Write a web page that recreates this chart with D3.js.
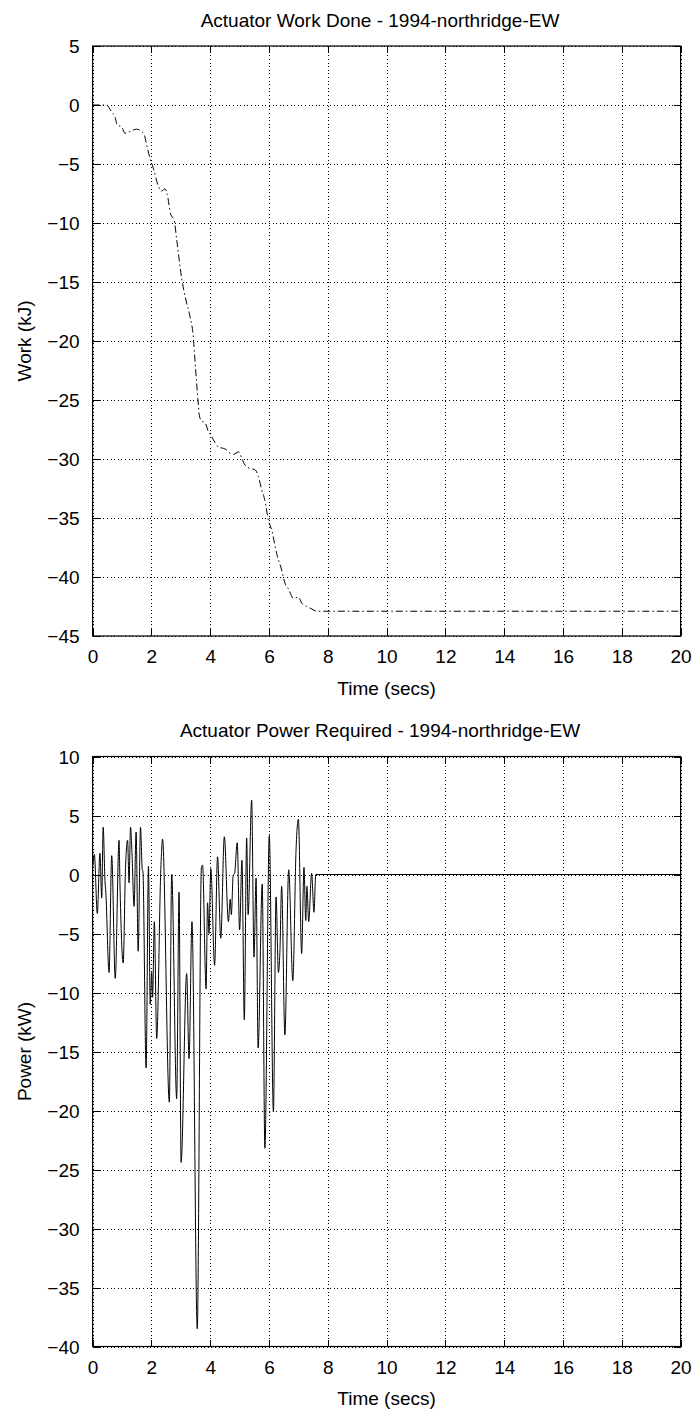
<!DOCTYPE html>
<html>
<head>
<meta charset="utf-8">
<script src="https://cdn.jsdelivr.net/npm/d3@7"></script>
<style>
  html, body { margin: 0; padding: 0; background: #fff; }
  svg { display: block; }
  text { font-family: "Liberation Sans", Arial, Helvetica, sans-serif; fill: #000; }
</style>
</head>
<body>
<svg id="chart" width="699" height="1412"></svg>
<script>
// ---- data ----
const xTicks = [0, 2, 4, 6, 8, 10, 12, 14, 16, 18, 20];
const workTicks = [5, 0, -5, -10, -15, -20, -25, -30, -35, -40, -45];
const powerTicks = [10, 5, 0, -5, -10, -15, -20, -25, -30, -35, -40];

const workTitle = "Actuator Work Done - 1994-northridge-EW";
const powerTitle = "Actuator Power Required - 1994-northridge-EW";
const xLabel = "Time (secs)";
const workLabel = "Work (kJ)";
const powerLabel = "Power (kW)";

const workTime = [0, 0.48, 0.55, 0.65, 0.76, 0.84, 0.99, 1.1, 1.27, 1.5, 1.67, 1.76, 1.84, 1.95, 2.07, 2.24, 2.35, 2.46, 2.54, 2.66, 2.77, 2.86, 3.03, 3.2, 3.31, 3.43, 3.48, 3.54, 3.6, 3.63, 3.71, 3.82, 3.94, 4.05, 4.16, 4.28, 4.45, 4.54, 4.62, 4.79, 4.96, 5.07, 5.18, 5.35, 5.52, 5.64, 5.75, 5.86, 5.98, 6.09, 6.26, 6.43, 6.54, 6.66, 6.83, 7.0, 7.11, 7.28, 7.45, 7.62, 20];
const workValue = [0, 0, -0.2, -0.6, -1.0, -1.7, -1.85, -2.4, -2.25, -2.05, -2.25, -2.55, -3.4, -4.5, -5.4, -6.9, -7.3, -7.1, -7.6, -9.3, -9.7, -11.4, -14.7, -16.8, -17.9, -19.8, -21.6, -23.6, -25.5, -26.3, -26.8, -26.9, -27.7, -28.1, -28.6, -29.0, -29.1, -29.2, -29.4, -29.6, -29.4, -29.9, -30.5, -30.8, -30.9, -31.5, -32.6, -33.5, -35.2, -36.0, -38.0, -39.4, -40.5, -41.0, -41.8, -41.7, -42.2, -42.5, -42.7, -42.9, -42.9];

const powerTime = [0.00, 0.06, 0.16, 0.25, 0.31, 0.36, 0.42, 0.45, 0.56, 0.65, 0.77, 0.90, 0.93, 1.04, 1.12, 1.19, 1.24, 1.29, 1.34, 1.41, 1.48, 1.55, 1.63, 1.69, 1.71, 1.82, 1.90, 1.96, 2.01, 2.04, 2.10, 2.18, 2.32, 2.38, 2.61, 2.69, 2.86, 2.94, 3.01, 3.20, 3.28, 3.38, 3.56, 3.70, 3.74, 3.86, 3.91, 3.96, 4.02, 4.15, 4.25, 4.36, 4.48, 4.62, 4.68, 4.72, 4.78, 4.83, 4.92, 5.00, 5.08, 5.16, 5.24, 5.29, 5.41, 5.49, 5.56, 5.63, 5.77, 5.86, 6.01, 6.15, 6.24, 6.32, 6.37, 6.43, 6.54, 6.67, 6.81, 6.92, 7.00, 7.11, 7.19, 7.25, 7.29, 7.35, 7.45, 7.53, 7.59, 20.0];
const powerValue = [0.5, 1.7, -3.3, 1.8, -2.0, 4.0, -0.5, -1.5, -8.3, 1.6, -8.8, 2.9, -0.7, -7.5, 0.6, 2.9, -0.7, 4.0, 1.8, -2.7, 3.6, -6.5, 4.0, 0.4, 0.3, -16.4, 0.7, -11.0, -8.3, -10.4, -4.0, -13.9, 0.4, 3.0, -19.3, 0.0, -19.0, -1.5, -24.4, -8.4, -15.6, -4.0, -38.5, 0.6, 0.8, -9.7, -2.4, -5.0, 0.5, -7.7, 1.5, -5.4, 3.2, -4.0, -2.1, -3.4, -0.1, 0.1, 2.7, -4.7, 1.2, -12.3, 3.1, -3.4, 6.3, -7.0, -0.3, -14.7, -0.8, -23.2, 3.3, -20.1, -1.9, -8.3, -6.6, -1.0, -13.6, 0.4, -9.0, 2.1, 4.7, -6.7, 0.6, -3.9, -1.0, -4.0, 0.1, -3.2, 0.0, 0.0];

// ---- layout ----
const svg = d3.select("#chart");
const L = 92.6, R = 680.6;
const FS = "19px";

function panel(cfg) {
  const { top, bottom, yDomain, yTicks, title, ylabel, xs, ys, dash, curve } = cfg;
  const x = d3.scaleLinear().domain([0, 20]).range([L, R]);
  const y = d3.scaleLinear().domain(yDomain).range([bottom, top]);
  const g = svg.append("g");
  const W = R - L, H = bottom - top;

  // grid
  g.append("g").attr("transform", `translate(0,${bottom})`)
    .call(d3.axisBottom(x).tickValues(xTicks).tickSize(-H).tickFormat(""))
    .call(a => a.select(".domain").remove())
    .call(a => a.selectAll("line").attr("stroke", "#000").attr("stroke-width", 1).attr("stroke-dasharray", "1,2.6").attr("shape-rendering", "crispEdges"));
  g.append("g").attr("transform", `translate(${L},0)`)
    .call(d3.axisLeft(y).tickValues(yTicks).tickSize(-W).tickFormat(""))
    .call(a => a.select(".domain").remove())
    .call(a => a.selectAll("line").attr("stroke", "#000").attr("stroke-width", 1).attr("stroke-dasharray", "1,2.6").attr("shape-rendering", "crispEdges"));

  // ticks inward on all sides
  const tk = 7;
  const bAx = g.append("g").attr("transform", `translate(0,${bottom})`)
    .call(d3.axisBottom(x).tickValues(xTicks).tickSizeInner(-tk).tickSizeOuter(0).tickPadding(tk + 7).tickFormat(d3.format("d")));
  const tAx = g.append("g").attr("transform", `translate(0,${top})`)
    .call(d3.axisTop(x).tickValues(xTicks).tickSizeInner(-tk).tickSizeOuter(0).tickFormat(""));
  const lAx = g.append("g").attr("transform", `translate(${L},0)`)
    .call(d3.axisLeft(y).tickValues(yTicks).tickSizeInner(-tk).tickSizeOuter(0).tickPadding(tk + 6).tickFormat(d3.format("d")));
  const rAx = g.append("g").attr("transform", `translate(${R},0)`)
    .call(d3.axisRight(y).tickValues(yTicks).tickSizeInner(-tk).tickSizeOuter(0).tickFormat(""));
  [bAx, tAx, lAx, rAx].forEach(a => {
    a.select(".domain").remove();
    a.selectAll("line").attr("stroke", "#000").attr("stroke-width", 1).attr("shape-rendering", "crispEdges");
    a.selectAll("text").style("font-size", FS).attr("fill", "#000");
  });
  lAx.selectAll("text").attr("dy", "0.35em");

  // frame
  g.append("rect").attr("x", L).attr("y", top).attr("width", W).attr("height", H)
    .attr("fill", "none").attr("stroke", "#000").attr("stroke-width", 1.2);

  // line
  const pts = xs.map((t, i) => [t, ys[i]]);
  const line = d3.line().x(d => x(d[0])).y(d => y(d[1])).curve(curve || d3.curveLinear);
  const path = g.append("path").datum(pts).attr("d", line)
    .attr("fill", "none").attr("stroke", "#000").attr("stroke-width", 1)
    .attr("stroke-linejoin", "round");
  if (dash) path.attr("stroke-dasharray", dash);

  // title & labels
  g.append("text").attr("x", 380).attr("y", top - 26).attr("text-anchor", "middle")
    .attr("dominant-baseline", "central").style("font-size", FS).text(title);
  g.append("text").attr("x", (L + R) / 2).attr("y", bottom + 52).attr("text-anchor", "middle")
    .attr("dominant-baseline", "central").style("font-size", FS).text(xLabel);
  g.append("text").attr("transform", `translate(24,${(top + bottom) / 2}) rotate(-90)`)
    .attr("text-anchor", "middle").attr("dominant-baseline", "central")
    .style("font-size", FS).text(ylabel);
}

panel({ top: 46, bottom: 636, yDomain: [-45, 5], yTicks: workTicks, title: workTitle, ylabel: workLabel,
        xs: workTime, ys: workValue, dash: "7,3,1.5,3", curve: d3.curveMonotoneX });
panel({ top: 756.5, bottom: 1346.5, yDomain: [-40, 10], yTicks: powerTicks, title: powerTitle, ylabel: powerLabel,
        xs: powerTime, ys: powerValue, dash: null, curve: d3.curveMonotoneX });
</script>
</body>
</html>
